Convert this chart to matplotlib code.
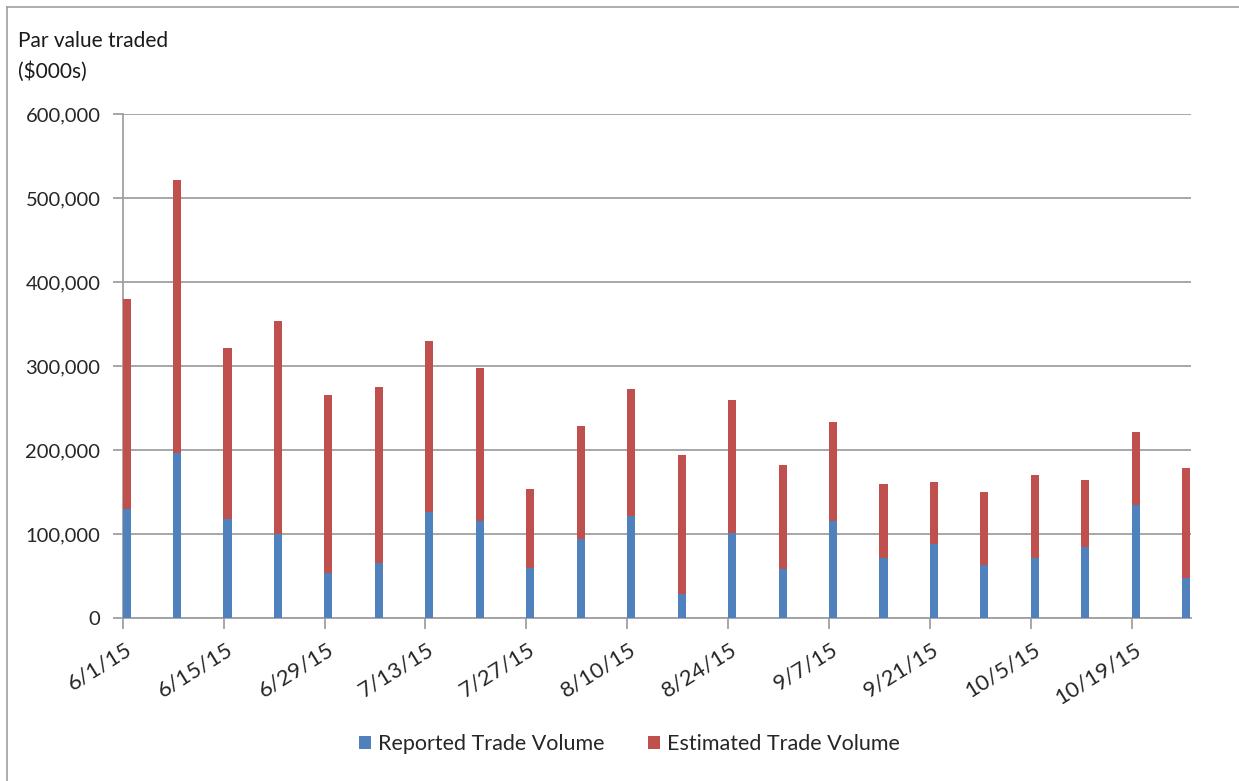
import pandas as pd
import matplotlib
matplotlib.use('Agg')
import matplotlib.pyplot as plt
from matplotlib.lines import Line2D
from matplotlib.ticker import FuncFormatter
from matplotlib.transforms import ScaledTranslation

plt.rcParams['font.family'] = ['Lato', 'DejaVu Sans']

# weekly par value traded, $000s
weeks = pd.date_range('2015-06-01', periods=22, freq='7D')
reported = [130, 197, 118, 100, 53, 66, 126, 116, 60, 94, 122,
            29, 101, 58, 116, 72, 88, 63, 72, 84, 134, 48]
estimated = [250, 324, 204, 254, 213, 209, 204, 182, 94, 134, 151,
             165, 158, 124, 117, 88, 74, 87, 98, 80, 88, 130]
reported = [v * 1000 for v in reported]
estimated = [v * 1000 for v in estimated]

blue = '#4f81bd'
red = '#c0504d'
grid_col = '#a0a0a0'
text_col = '#262626'

fig = plt.figure(figsize=(12.39, 7.81), dpi=100)
ax = fig.add_axes([0.099, 0.2087, 0.8623, 0.6453])

xpos = weeks + pd.Timedelta(hours=13)
ax.bar(xpos, reported, width=1.12, color=blue, label='Reported Trade Volume', zorder=3)
ax.bar(xpos, estimated, width=1.12, bottom=reported, color=red,
       label='Estimated Trade Volume', zorder=3)

ax.set_ylim(0, 600000)
ax.set_yticks(range(0, 600001, 100000))
ax.yaxis.set_major_formatter(FuncFormatter(lambda v, p: f'{int(v):,}'))
ax.set_xlim(weeks[0], weeks[0] + pd.Timedelta(days=148.2))
ax.set_xticks(weeks[::2])
ax.set_xticklabels([])

# rotated date labels, placed by hand so they can sit a little right of the tick
trans = ax.get_xaxis_transform() + ScaledTranslation(0.07, -0.30, fig.dpi_scale_trans)
for d in weeks[::2]:
    ax.text(d, 0, f'{d.month}/{d.day}/{d:%y}', transform=trans, rotation=32,
            ha='right', va='center', rotation_mode='anchor', fontsize=16,
            color=text_col)

ax.grid(axis='y', color=grid_col, lw=1.3, zorder=0)
for s in ['top', 'right']:
    ax.spines[s].set_visible(False)
for s in ['left', 'bottom']:
    ax.spines[s].set_color(grid_col)
    ax.spines[s].set_linewidth(1.3)
ax.tick_params(axis='y', length=7, width=1.3, color=grid_col, labelsize=14.5,
               labelcolor=text_col, pad=9)
ax.tick_params(axis='x', length=8, width=1.3, color=grid_col)

fig.text(18 / 1239, 1 - 31 / 781, 'Par value traded\n($000s)', fontsize=15,
         color='#1a1a1a', va='top', ha='left', linespacing=1.6)

fig.legend(loc='center', bbox_to_anchor=(0.508, 0.0475), ncol=2, frameon=False,
           fontsize=15.5, handlelength=0.55, handleheight=0.55, handletextpad=0.35,
           columnspacing=2.0, labelcolor=text_col)

# outer chart border (top and left edges visible)
fig.add_artist(Line2D([7 / 1239, 1.0], [1 - 7 / 781, 1 - 7 / 781],
                      transform=fig.transFigure, color=grid_col, lw=1.2))
fig.add_artist(Line2D([7 / 1239, 7 / 1239], [0.0, 1 - 7 / 781],
                      transform=fig.transFigure, color=grid_col, lw=1.2))

fig.savefig('out.png', dpi=100)
